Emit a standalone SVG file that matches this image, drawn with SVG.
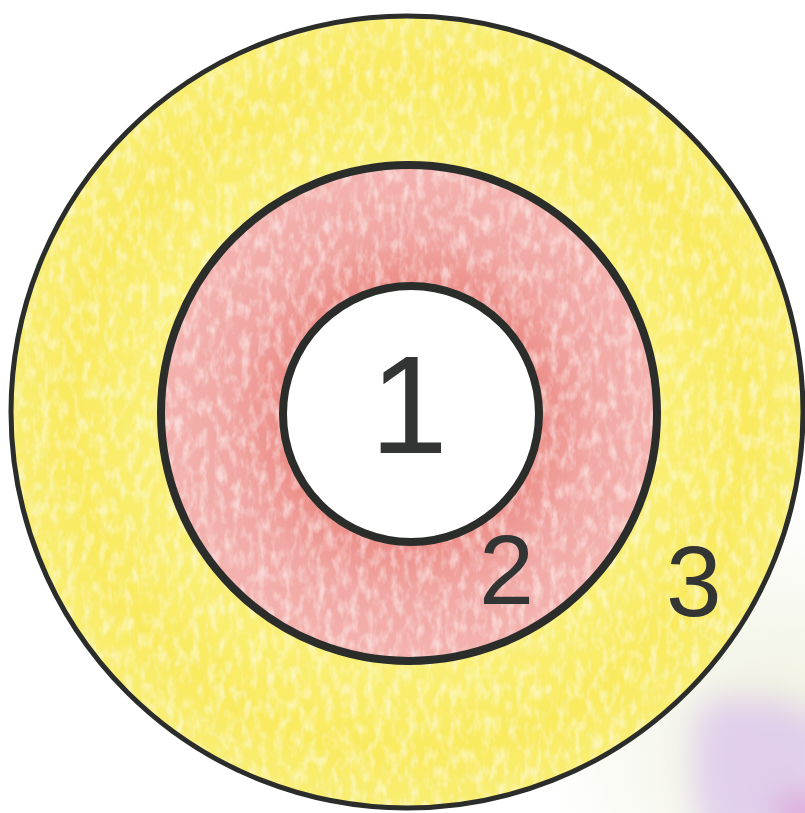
<svg xmlns="http://www.w3.org/2000/svg" width="805" height="813" viewBox="0 0 805 813">
  <style>
    .ring { stroke: #2b2d2a; fill: none; }
    .num { font-family: "Liberation Sans", Arial, sans-serif; fill: #333535; }
  </style>
  <defs>
    <radialGradient id="bgGlow" cx="780" cy="740" r="240" gradientUnits="userSpaceOnUse">
      <stop offset="0" stop-color="#eef0dc"/>
      <stop offset="1" stop-color="#ffffff"/>
    </radialGradient>
    <radialGradient id="redFill" cx="410" cy="414" r="250" gradientUnits="userSpaceOnUse">
      <stop offset="0.5" stop-color="#ec8c86"/>
      <stop offset="0.72" stop-color="#f1a7a3"/>
      <stop offset="1" stop-color="#f4b3af"/>
    </radialGradient>
    <radialGradient id="yellowFill" cx="407" cy="412" r="398" gradientUnits="userSpaceOnUse">
      <stop offset="0.6" stop-color="#faf07a"/>
      <stop offset="0.85" stop-color="#f9ea5e"/>
      <stop offset="1" stop-color="#f9ee74"/>
    </radialGradient>
    <filter id="blur" filterUnits="userSpaceOnUse" x="600" y="600" width="260" height="260">
      <feGaussianBlur stdDeviation="16"/>
    </filter>
    <filter id="pencil" x="0" y="0" width="100%" height="100%">
      <feTurbulence type="fractalNoise" baseFrequency="0.12 0.06" numOctaves="3" seed="7" result="noise"/>
      <feColorMatrix in="noise" type="matrix" values="0 0 0 0 1  0 0 0 0 1  0 0 0 0 1  0 0 0 -2.4 1.4" result="white"/>
      <feComposite in="white" in2="SourceGraphic" operator="in"/>
    </filter>
    <clipPath id="discClip">
      <circle cx="407" cy="412" r="396"/>
    </clipPath>
  </defs>

  <g id="background">
    <rect width="805" height="813" fill="#ffffff"/>
    <rect x="540" y="520" width="265" height="293" fill="url(#bgGlow)"/>
    <g filter="url(#blur)" opacity="0.8">
      <path d="M700 705 Q745 690 790 705 L830 720 L830 840 L705 840 Q685 770 700 705 Z" fill="#ddc6ee"/>
      <ellipse cx="805" cy="812" rx="32" ry="14" fill="#d47ccd"/>
    </g>
  </g>

  <g id="zone-3">
    <circle cx="407" cy="412" r="396" fill="url(#yellowFill)"/>
  </g>
  <g id="zone-2">
    <circle cx="409" cy="413" r="248" fill="url(#redFill)"/>
  </g>
  <g id="texture" clip-path="url(#discClip)" opacity="0.5">
    <rect x="10" y="14" width="795" height="799" fill="#000" filter="url(#pencil)"/>
  </g>
  <g id="zone-1">
    <circle cx="411" cy="414" r="128" fill="#ffffff"/>
  </g>

  <g id="outlines">
    <circle class="ring" cx="407" cy="412" r="396" stroke-width="5"/>
    <circle class="ring" cx="409" cy="413" r="248" stroke-width="8"/>
    <circle class="ring" cx="411" cy="414" r="128" stroke-width="8"/>
  </g>

  <g id="labels">
    <text class="num" x="370" y="453" font-size="140">1</text>
    <text class="num" x="479" y="604" font-size="99" fill="#3a2c2c">2</text>
    <text class="num" x="666" y="616" font-size="100" fill="#3a3a26">3</text>
  </g>
</svg>
